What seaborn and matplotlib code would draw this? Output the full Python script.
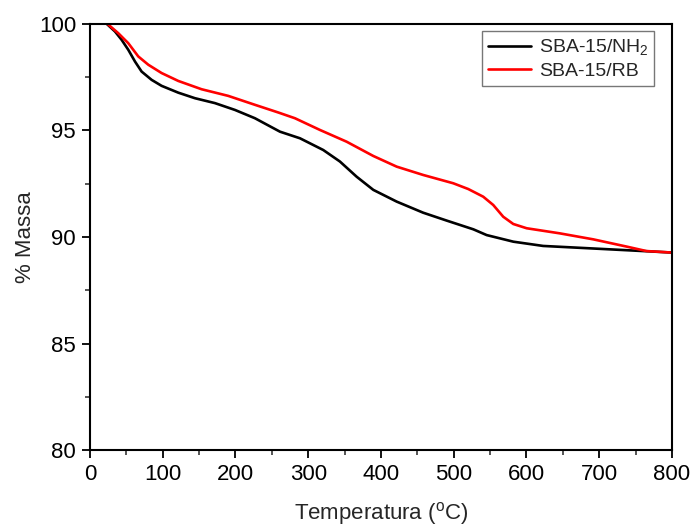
import numpy as np
import pandas as pd
import matplotlib
matplotlib.use("Agg")
import matplotlib.pyplot as plt
from matplotlib.ticker import MultipleLocator
import seaborn as sns

# Data
temp_nh2 = [23, 34.4, 43.5, 52.7, 61.9, 71, 84.8, 98.5, 121.4, 144.3, 171.8, 199.3,
            226.8, 249.7, 261.2, 288.7, 320.7, 343.6, 366.5, 389.5, 421.6, 458,
            490.3, 527, 545.3, 582, 623, 669, 714.8, 760.5, 800]
mass_nh2 = [100, 99.64, 99.25, 98.78, 98.23, 97.76, 97.37, 97.09, 96.77, 96.51, 96.28,
            95.96, 95.57, 95.15, 94.94, 94.63, 94.08, 93.54, 92.83, 92.21, 91.66,
            91.14, 90.77, 90.36, 90.09, 89.78, 89.58, 89.50, 89.42, 89.34, 89.27]

temp_rb = [24, 38.9, 52.7, 66.4, 80.2, 98.5, 121.4, 153.5, 190, 226.8, 258.9, 281.8,
           316.2, 352.8, 389.5, 421.6, 458, 499.4, 520, 540.6, 554.4, 568.1, 581.9,
           600.3, 646, 691.8, 737.7, 765, 800]
mass_rb = [100, 99.56, 99.09, 98.47, 98.08, 97.69, 97.32, 96.93, 96.62, 96.20, 95.84,
           95.57, 95.02, 94.47, 93.80, 93.30, 92.91, 92.52, 92.25, 91.89, 91.50,
           90.95, 90.61, 90.41, 90.17, 89.89, 89.55, 89.34, 89.27]

labels = ["SBA-15/NH$_2$", "SBA-15/RB"]
colors = ["black", "#ff0000"]

df = pd.concat([
    pd.DataFrame({"T": temp_nh2, "m": mass_nh2, "s": labels[0]}),
    pd.DataFrame({"T": temp_rb, "m": mass_rb, "s": labels[1]}),
])

sns.set_style("ticks")
plt.rcParams["font.family"] = ["Liberation Sans", "DejaVu Sans"]
plt.rcParams["mathtext.fontset"] = "custom"
plt.rcParams["mathtext.rm"] = "Liberation Sans"
plt.rcParams["mathtext.it"] = "Liberation Sans:italic"
plt.rcParams["mathtext.bf"] = "Liberation Sans:bold"

fig = plt.figure(figsize=(6.92, 5.29), dpi=100)
ax = fig.add_axes([0.130, 0.149, 0.841, 0.806])

sns.lineplot(data=df, x="T", y="m", hue="s", palette=colors, hue_order=labels,
             linewidth=1.9, ax=ax, sort=True, estimator=None)

ax.set_xlim(0, 800)
ax.set_ylim(80, 100)
ax.xaxis.set_major_locator(MultipleLocator(100))
ax.xaxis.set_minor_locator(MultipleLocator(50))
ax.yaxis.set_major_locator(MultipleLocator(5))
ax.yaxis.set_minor_locator(MultipleLocator(2.5))
ax.tick_params(which="major", direction="out", length=6, width=1.3, labelsize=16,
               colors="black", top=False, right=False, pad=4)
ax.tick_params(which="minor", direction="out", length=3.5, width=1.1,
               top=False, right=False)
for sp in ax.spines.values():
    sp.set_visible(True)
    sp.set_linewidth(1.5)
    sp.set_color("black")

ax.set_xlabel("Temperatura ($^{\\mathrm{o}}$C)", fontsize=16)
ax.set_ylabel("% Massa", fontsize=16)
ax.xaxis.set_label_coords(0.5, -0.117)
ax.yaxis.set_label_coords(-0.093, 0.5)

leg = ax.legend(loc="upper right", bbox_to_anchor=(0.97, 0.982), fontsize=14,
                frameon=True, fancybox=False, edgecolor="#555555",
                handlelength=2.2, borderpad=0.3, labelspacing=0.25,
                handletextpad=0.4, borderaxespad=0)
leg.get_frame().set_linewidth(1.0)
leg.set_title(None)

fig.savefig("out.png", dpi=100)
